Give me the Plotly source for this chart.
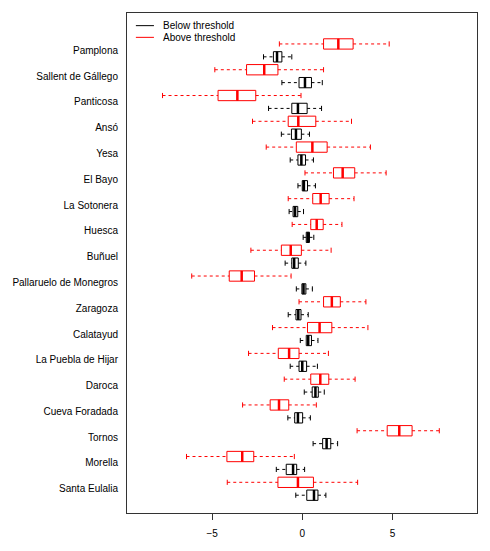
import plotly.graph_objects as go

categories = ["Pamplona", "Sallent de Gállego", "Panticosa", "Ansó", "Yesa", "El Bayo",
              "La Sotonera", "Huesca", "Buñuel", "Pallaruelo de Monegros", "Zaragoza",
              "Calatayud", "La Puebla de Hijar", "Daroca", "Cueva Foradada", "Tornos",
              "Morella", "Santa Eulalia"]

above_lo = [-1.27, -4.85, -7.75, -2.76, -2.00, 0.15, -0.78, -0.56, -2.85, -6.13, -0.18, -1.65, -2.98, -1.00, -3.31, 3.04, -6.42, -4.16]
above_q1 = [1.18, -3.09, -4.67, -0.78, -0.33, 1.73, 0.58, 0.47, -1.16, -4.05, 1.18, 0.29, -1.33, 0.47, -1.78, 4.71, -4.18, -1.35]
above_med = [2.00, -2.11, -3.60, -0.22, 0.56, 2.24, 1.02, 0.80, -0.64, -3.36, 1.64, 0.96, -0.73, 1.00, -1.29, 5.38, -3.33, -0.24]
above_q3 = [2.82, -1.35, -2.58, 0.75, 1.38, 2.91, 1.49, 1.16, -0.05, -2.65, 2.11, 1.64, -0.18, 1.47, -0.75, 6.09, -2.69, 0.62]
above_hi = [4.82, 1.18, -0.07, 2.73, 3.78, 4.65, 2.87, 2.20, 1.60, -0.62, 3.53, 3.64, 1.45, 2.93, 0.78, 7.60, -0.44, 3.07]

below_lo = [-2.15, -1.13, -1.87, -1.16, -0.67, -0.24, -0.73, 0.05, -0.95, -0.33, -0.78, -0.11, -0.67, 0.11, -0.80, 0.60, -1.44, -0.36]
below_q1 = [-1.60, -0.18, -0.58, -0.60, -0.24, 0.00, -0.51, 0.22, -0.58, -0.02, -0.35, 0.22, -0.18, 0.55, -0.42, 1.13, -0.89, 0.25]
below_med = [-1.40, 0.15, -0.24, -0.35, -0.05, 0.09, -0.40, 0.31, -0.45, 0.07, -0.22, 0.33, 0.00, 0.73, -0.24, 1.35, -0.51, 0.65]
below_q3 = [-1.13, 0.51, 0.27, -0.05, 0.18, 0.29, -0.25, 0.40, -0.22, 0.20, -0.07, 0.51, 0.24, 0.89, 0.02, 1.58, -0.31, 0.87]
below_hi = [-0.58, 1.11, 1.07, 0.40, 0.62, 0.73, 0.07, 0.64, 0.20, 0.56, 0.33, 0.87, 0.84, 1.22, 0.45, 1.96, 0.13, 1.31]

x_ticks = [-5, 0, 5]
legend_names = ["Below threshold", "Above threshold"]

FONT = "Liberation Sans, Arial, Helvetica, sans-serif"
RED = "#ff0000"
BLACK = "#000000"
BOXW = 0.8
STAPLE = 0.4

n = len(categories)
pos_above = [2 * n - 2 * i for i in range(n)]
pos_below = [2 * n - 2 * i - 1 for i in range(n)]
label_pos = [p - 0.5 for p in pos_above]

fig = go.Figure()


def add_group(pos, lo, q1, med, q3, hi, color):
    # box body
    fig.add_trace(go.Box(
        y=pos, q1=q1, median=med, q3=q3, lowerfence=q1, upperfence=q3,
        orientation="h", width=BOXW, whiskerwidth=0,
        line=dict(color=color, width=1), fillcolor="rgba(255,255,255,0)",
        boxpoints=False, showlegend=False, hoverinfo="skip"))
    # whiskers (dashed)
    wx, wy = [], []
    for p, a, b, c, d in zip(pos, lo, q1, q3, hi):
        wx += [a, b, None, c, d, None]
        wy += [p, p, None, p, p, None]
    fig.add_trace(go.Scatter(x=wx, y=wy, mode="lines",
                             line=dict(color=color, width=1, dash="3px,3px"),
                             showlegend=False, hoverinfo="skip"))
    # staples
    sx, sy = [], []
    for p, a, d in zip(pos, lo, hi):
        sx += [a, a, None, d, d, None]
        sy += [p - STAPLE / 2, p + STAPLE / 2, None, p - STAPLE / 2, p + STAPLE / 2, None]
    fig.add_trace(go.Scatter(x=sx, y=sy, mode="lines",
                             line=dict(color=color, width=1),
                             showlegend=False, hoverinfo="skip"))
    # thick medians
    mx, my = [], []
    for p, m in zip(pos, med):
        mx += [m, m, None]
        my += [p - BOXW / 2, p + BOXW / 2, None]
    fig.add_trace(go.Scatter(x=mx, y=my, mode="lines",
                             line=dict(color=color, width=2.5),
                             showlegend=False, hoverinfo="skip"))


add_group(pos_above, above_lo, above_q1, above_med, above_q3, above_hi, RED)
add_group(pos_below, below_lo, below_q1, below_med, below_q3, below_hi, BLACK)

# legend drawn in paper coordinates
leg_y = [0.9747, 0.9513]
leg_col = [BLACK, RED]
for name, yy, col in zip(legend_names, leg_y, leg_col):
    fig.add_shape(type="line", xref="paper", yref="paper", x0=0.0254, x1=0.077,
                  y0=yy, y1=yy, line=dict(color=col, width=1))
    fig.add_annotation(xref="paper", yref="paper", x=0.097, y=yy, text=name,
                       showarrow=False, xanchor="left", yanchor="middle",
                       font=dict(family=FONT, size=10, color="#000000"))

# the page body adds an 8px offset, so margins are shifted to compensate
fig.update_layout(
    width=490, height=551,
    margin=dict(l=114.7, r=20.7, t=4.3, b=45.5),
    paper_bgcolor="white", plot_bgcolor="white",
    showlegend=False,
    font=dict(family=FONT, size=10, color="#000000"),
    xaxis=dict(range=[-9.72, 9.69], tickvals=x_ticks, ticks="outside", ticklen=6,
               tickcolor="#333333", showgrid=False, zeroline=False, showline=True,
               linecolor="#333333", linewidth=1, mirror=True, ticklabelstandoff=5,
               tickfont=dict(family=FONT, size=10, color="#000000")),
    yaxis=dict(range=[-0.38, 38.40], tickvals=label_pos, ticktext=categories,
               ticks="outside", ticklen=6, tickcolor="rgba(0,0,0,0)",
               showgrid=False, zeroline=False, showline=True,
               linecolor="#333333", linewidth=1, mirror=True,
               tickfont=dict(family=FONT, size=10, color="#000000")),
)

fig.write_html("out.html")
